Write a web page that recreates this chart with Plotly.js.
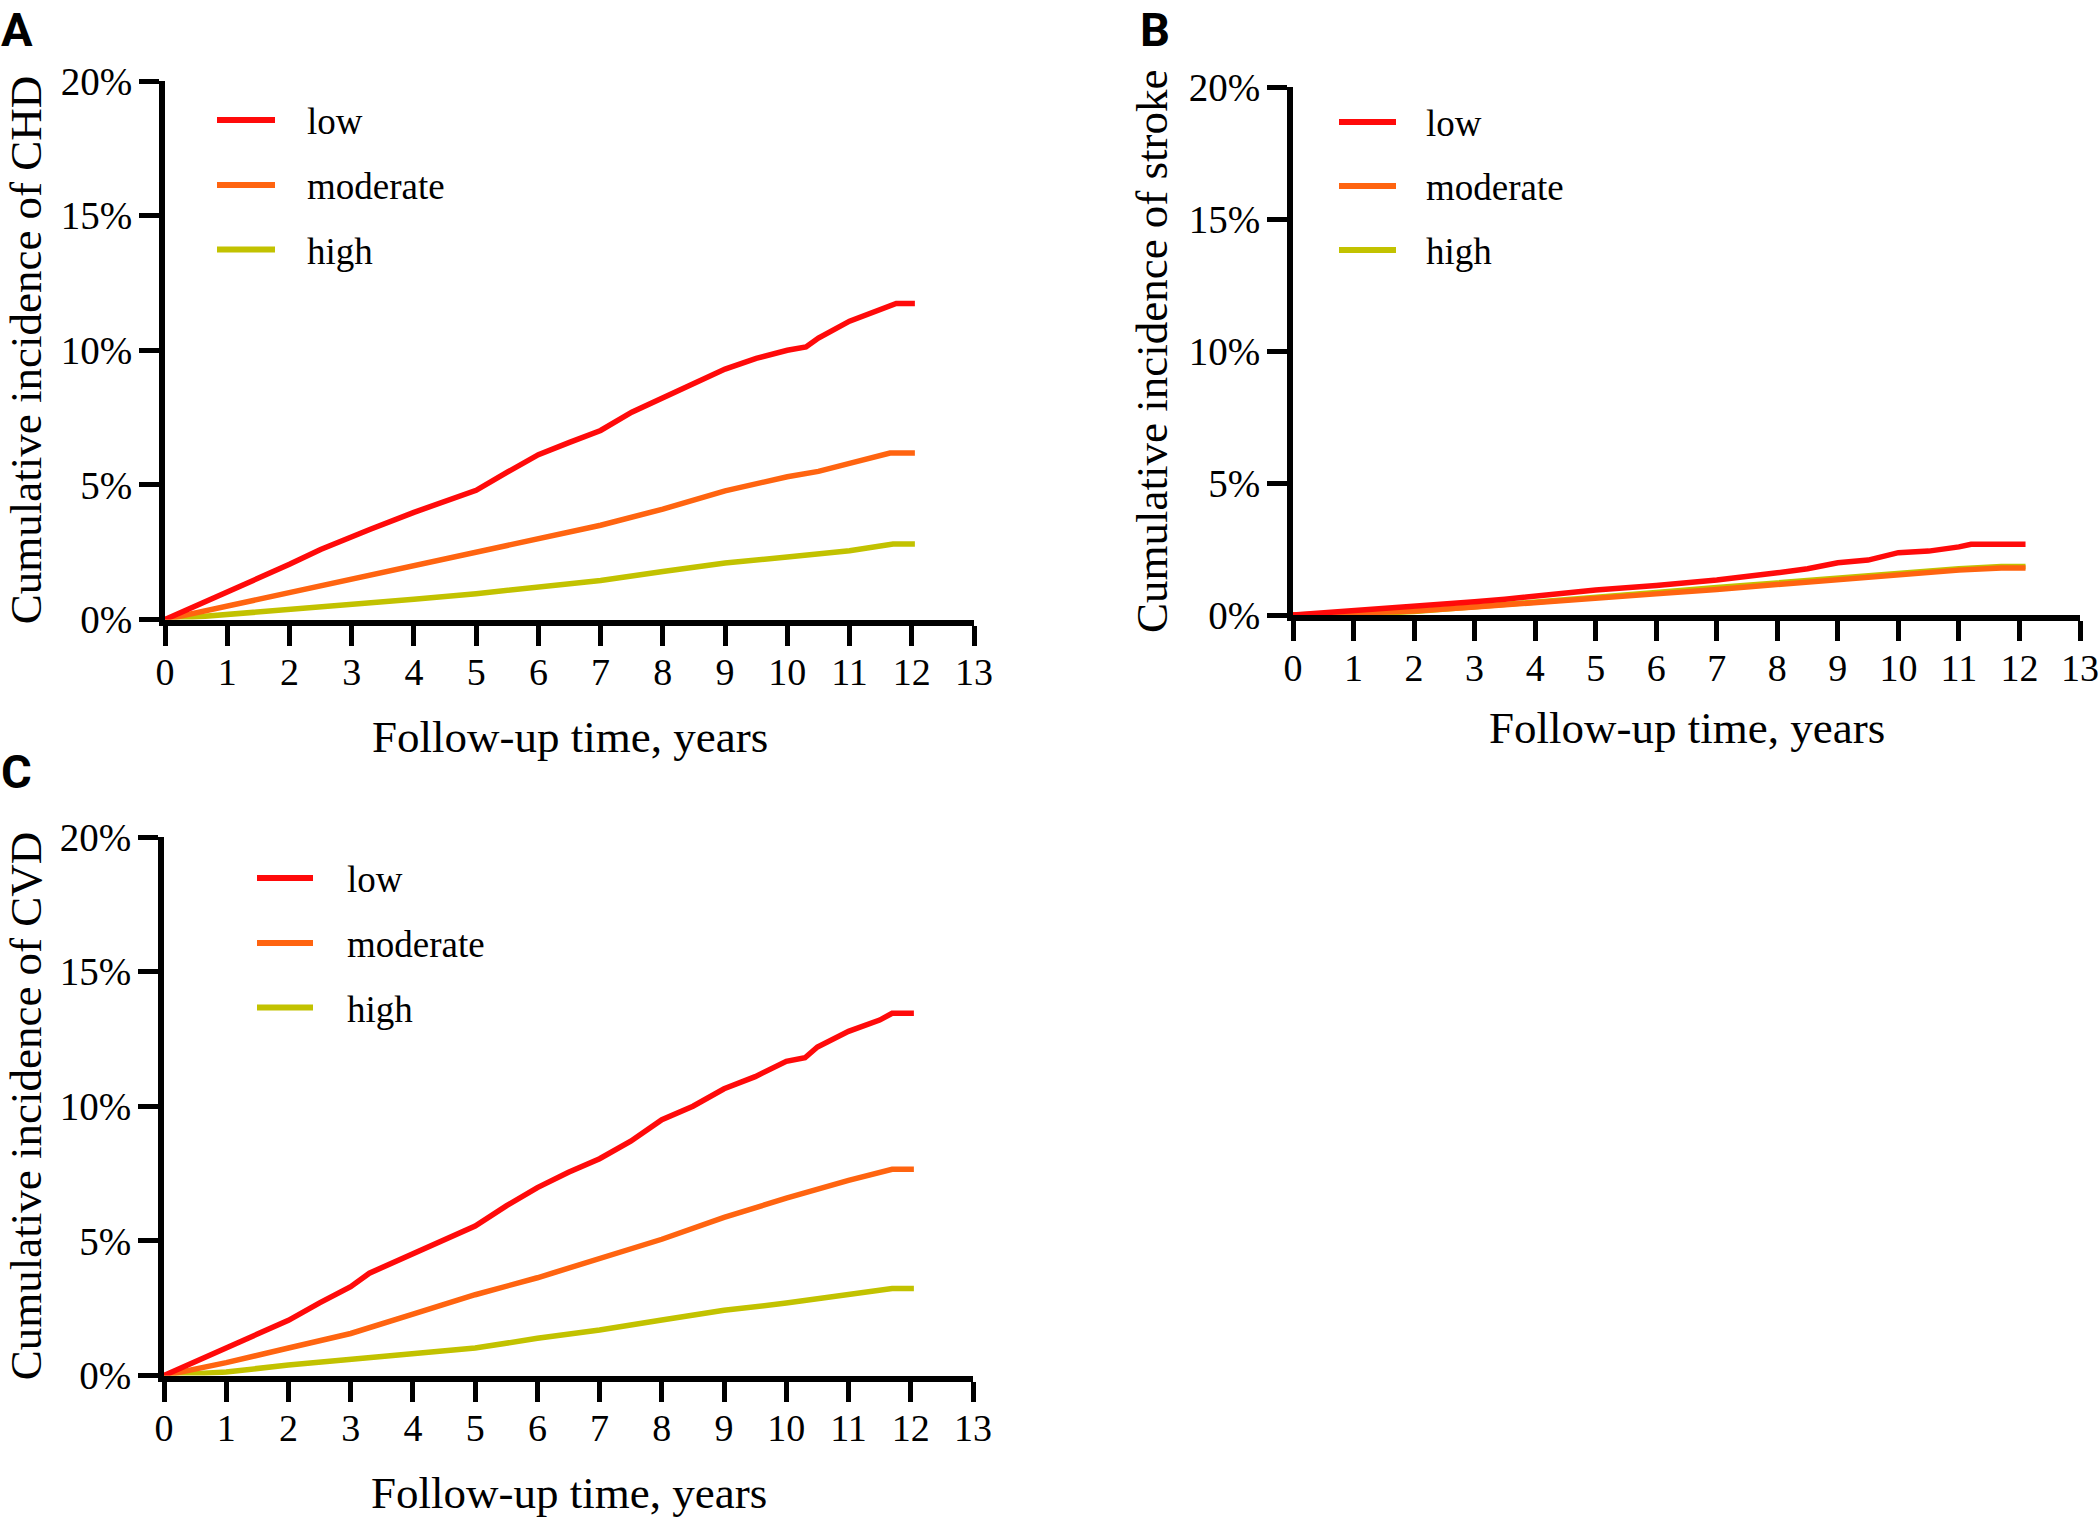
<!DOCTYPE html>
<html>
<head>
<meta charset="utf-8">
<script src="https://cdn.plot.ly/plotly-3.0.1.min.js"></script>
<style>html,body{margin:0;padding:0;background:#fff;}#chart{width:2100px;height:1519px;}</style>
</head>
<body>
<div id="chart"></div>
<script>
// ---------------- DATA ----------------
const groupNames = ["low", "moderate", "high"];
const xTickValues = [0,1,2,3,4,5,6,7,8,9,10,11,12,13];
const yTickValues = [0,5,10,15,20];
const yTickLabels = ["0%","5%","10%","15%","20%"];
const panelLetters = ["A","B","C"];
const outcomes = ["CHD","stroke","CVD"];

// Panel A: CHD (cumulative incidence, %)
const chdLowT  = [0,0.5,1,1.5,2,2.5,3,3.3,4,4.5,5,5.5,6,6.5,7,7.5,8,8.5,9,9.5,10,10.3,10.5,11,11.5,11.75,12.05];
const chdLowV  = [0,0.5,1.0,1.5,2.05,2.6,3.1,3.35,3.98,4.4,4.8,5.47,6.12,6.58,7.02,7.7,8.25,8.75,9.3,9.7,10.0,10.12,10.45,11.08,11.5,11.74,11.74];
const chdModT  = [0,0.5,1,2,3,4,5,6,7,8,9,10,10.5,11,11.65,12.05];
const chdModV  = [0,0.25,0.5,1.0,1.5,1.98,2.48,3.0,3.5,4.1,4.78,5.3,5.5,5.8,6.18,6.18];
const chdHighT = [0,1,2,3,4,5,6,7,8,9,10,11,11.7,12.05];
const chdHighV = [0,0.18,0.37,0.53,0.75,0.96,1.18,1.45,1.78,2.1,2.32,2.55,2.8,2.8];

// Panel B: stroke
const strLowT  = [0,1,2,3,3.5,4,5,6,7,8,8.5,9,9.5,10,10.5,11,11.2,12.1];
const strLowV  = [0,0.15,0.3,0.5,0.6,0.72,0.95,1.12,1.33,1.6,1.75,1.98,2.08,2.36,2.42,2.58,2.68,2.68];
const strModT  = [0,1,2,3,4,5,6,7,8,9,10,11,11.7,12.1];
const strModV  = [0,0.05,0.15,0.3,0.45,0.62,0.8,0.97,1.15,1.33,1.55,1.7,1.78,1.78];
const strHighT = [0,1,2,3,4,5,6,7,8,9,10,11,11.7,12.1];
const strHighV = [0,0.03,0.13,0.3,0.47,0.65,0.85,1.04,1.22,1.4,1.6,1.75,1.84,1.84];

// Panel C: CVD
const cvdLowT  = [0,0.5,1,1.5,2,2.5,3,3.3,4,4.5,5,5.5,6,6.5,7,7.5,8,8.5,9,9.5,10,10.3,10.5,11,11.5,11.7,12.05];
const cvdLowV  = [0,0.5,1.02,1.5,2.05,2.7,3.3,3.8,4.52,5.0,5.55,6.3,6.98,7.55,8.05,8.7,9.5,10.0,10.65,11.1,11.67,11.8,12.2,12.78,13.2,13.45,13.45];
const cvdModT  = [0,1,2,3,4,5,6,7,8,9,10,11,11.7,12.05];
const cvdModV  = [0,0.48,1.02,1.56,2.28,3.0,3.63,4.34,5.06,5.87,6.59,7.25,7.66,7.66];
const cvdHighT = [0,1,2,3,4,5,6,7,8,9,10,11,11.7,12.05];
const cvdHighV = [0,0.13,0.39,0.61,0.84,1.02,1.38,1.69,2.06,2.42,2.69,3.0,3.23,3.23];

// ---------------- STYLE / LAYOUT ----------------
const W = 2100, H = 1519;
const px = x => x / W;
const py = y => 1 - y / H;
const colors = {low: "#ff0a0a", moderate: "#ff6410", high: "#c2c200"};
const serif = "Liberation Serif";

const panels = [
  {key:"A", x0:165, x1:974, yTop:81, yBot:619.5, xa:"x", ya:"y",
   series:{low:[chdLowT,chdLowV], moderate:[chdModT,chdModV], high:[chdHighT,chdHighV]},
   ytitleX:26, xtitleY:737, letterX:-1, letterTop:0,
   leg:{l0:217,l1:275,tx:305,y:[120,185,249.5]}},
  {key:"B", x0:1293, x1:2080, yTop:87, yBot:615, xa:"x2", ya:"y2",
   series:{low:[strLowT,strLowV], moderate:[strModT,strModV], high:[strHighT,strHighV]},
   ytitleX:1152, xtitleY:728, letterX:1138, letterTop:0,
   leg:{l0:1339,l1:1396,tx:1424,y:[122,186,250]}},
  {key:"C", x0:164, x1:973, yTop:837, yBot:1375.5, xa:"x3", ya:"y3",
   series:{low:[cvdLowT,cvdLowV], moderate:[cvdModT,cvdModV], high:[cvdHighT,cvdHighV]},
   ytitleX:26, xtitleY:1493, letterX:-1, letterTop:742,
   leg:{l0:257,l1:313,tx:345,y:[878,943,1007.5]}}
];

const traces = [];
const layout = {
  width: W, height: H,
  margin: {l:0, r:0, t:0, b:0, pad:0},
  paper_bgcolor: "#ffffff", plot_bgcolor: "#ffffff",
  showlegend: false,
  font: {family: serif, color: "#000", size: 37},
  annotations: [], shapes: []
};

panels.forEach((p, i) => {
  ["high","moderate","low"].forEach(g => {
    traces.push({
      type: "scatter", mode: "lines",
      x: p.series[g][0], y: p.series[g][1],
      name: g, xaxis: p.xa, yaxis: p.ya,
      line: {color: colors[g], width: 5.5, shape: "linear"},
      hoverinfo: "skip"
    });
  });
  const xName = "xaxis" + (i === 0 ? "" : (i+1));
  const yName = "yaxis" + (i === 0 ? "" : (i+1));
  layout[xName] = {
    domain: [px(p.x0), px(p.x1)], anchor: p.ya,
    range: [0, 13], tickmode: "array", tickvals: xTickValues,
    ticktext: xTickValues.map(String),
    ticks: "outside", ticklen: 20, tickwidth: 5, tickcolor: "#000",
    showline: true, linewidth: 6, linecolor: "#000",
    showgrid: false, zeroline: false, fixedrange: true,
    tickfont: {family: serif, size: 38, color: "#000"}, ticklabelstandoff: -6
  };
  layout[yName] = {
    domain: [py(p.yBot), py(p.yTop)], anchor: p.xa,
    range: [0, 20], tickmode: "array", tickvals: yTickValues, ticktext: yTickLabels,
    ticks: "outside", ticklen: 20, tickwidth: 5, tickcolor: "#000",
    showline: true, linewidth: 6, linecolor: "#000",
    showgrid: false, zeroline: false, fixedrange: true,
    tickfont: {family: serif, size: 39, color: "#000"}, ticklabelstandoff: -1
  };
  layout.annotations.push({
    xref: "paper", yref: "paper", x: px((p.x0 + p.x1) / 2), y: py(p.xtitleY),
    xanchor: "center", yanchor: "middle", showarrow: false,
    text: "Follow-up time, years", font: {family: serif, size: 45, color: "#000"}
  });
  layout.annotations.push({
    xref: "paper", yref: "paper", x: px(p.ytitleX), y: py((p.yTop + p.yBot) / 2),
    xanchor: "center", yanchor: "middle", showarrow: false, textangle: -90,
    text: "Cumulative incidence of " + outcomes[i], font: {family: serif, size: 45, color: "#000"}
  });
  layout.annotations.push({
    xref: "paper", yref: "paper", x: px(p.letterX), y: py(p.letterTop),
    xanchor: "left", yanchor: "top", showarrow: false,
    text: "<b>" + panelLetters[i] + "</b>", font: {family: "Roboto", size: 47, color: "#000"}
  });
  groupNames.forEach((g, k) => {
    layout.shapes.push({
      type: "line", xref: "paper", yref: "paper",
      x0: px(p.leg.l0), x1: px(p.leg.l1), y0: py(p.leg.y[k]), y1: py(p.leg.y[k]),
      line: {color: colors[g], width: 6}
    });
    layout.annotations.push({
      xref: "paper", yref: "paper", x: px(p.leg.tx), y: py(p.leg.y[k] + 1.5),
      xanchor: "left", yanchor: "middle", showarrow: false,
      text: g, font: {family: serif, size: 37, color: "#000"}
    });
  });
});

Plotly.newPlot("chart", traces, layout, {displayModeBar: false, staticPlot: true});
</script>
</body>
</html>
